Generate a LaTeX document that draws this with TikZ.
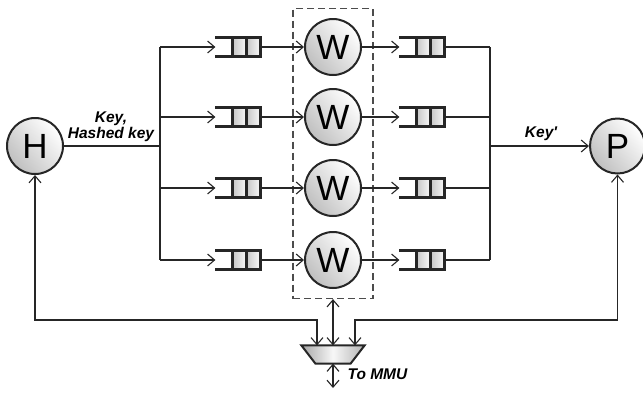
\documentclass[tikz,border=0pt]{standalone}
\usepackage{fontspec}
\setmainfont{Liberation Sans}
\usetikzlibrary{arrows.meta,fit}

\begin{document}
\begin{tikzpicture}[
    x=1pt, y=-1pt,
    line width=1.2pt,
    draw=black!85,
    >={Straight Barb[length=7pt,width=12pt,line width=1.1pt]},
    unit/.style={
        circle,
        draw=black!85,
        line width=2pt,
        inner sep=0pt,
        minimum size=56pt,
        top color=white,
        bottom color=black!25,
        shading angle=-50,
        font=\fontsize{35}{35}\selectfont
    },
    queue/.style={
        rectangle,
        inner sep=0pt,
        minimum width=44pt,
        minimum height=18pt
    },
    qline/.style={draw=black!85, line width=2.4pt},
    lbl/.style={font=\fontsize{15.5}{15.5}\selectfont\bfseries\itshape, inner sep=1pt}
]
\useasboundingbox (0,0) rectangle (643,392);

% Ends
\node[unit] (H) at (35,146) {H};
\node[unit, minimum size=55pt] (P) at (617.5,146) {P};

% Row 1
\node[queue] (qa1) at (238,47) {};
\node[unit]  (W1)  at (333,47) {W};
\node[queue] (qb1) at (422,47) {};

% Row 2
\node[queue] (qa2) at (238,117) {};
\node[unit]  (W2)  at (333,117) {W};
\node[queue] (qb2) at (422,117) {};

% Row 3
\node[queue] (qa3) at (238,188) {};
\node[unit]  (W3)  at (333,188) {W};
\node[queue] (qb3) at (422,188) {};

% Row 4
\node[queue] (qa4) at (238,260) {};
\node[unit]  (W4)  at (333,260) {W};
\node[queue] (qb4) at (422,260) {};

% Worker group
\node[draw=black!70, dash pattern=on 7pt off 4pt, inner xsep=11pt, inner ysep=9.5pt,
      fit=(W1)(W4)] (group) {};

% Memory multiplexer
\node[rectangle, inner sep=0pt, minimum width=62pt, minimum height=17pt] (mux) at (333,354.5) {};
\draw[line width=2pt, left color=black!35, right color=black!30, middle color=black!3]
    (mux.north west) -- (mux.north east) -- ([xshift=-14pt]mux.south east)
    -- ([xshift=14pt]mux.south west) -- cycle;

\coordinate (busL) at (160,0);
\coordinate (busR) at (490,0);
\coordinate (loop) at (0,320);
\coordinate (mmu) at (333,388);

% Queue drawing
\foreach \q in {qa1,qa2,qa3,qa4,qb1,qb2,qb3,qb4} {
    \shade[left color=black!22, right color=black!2]
        ([xshift=-28pt]\q.north east) rectangle ([xshift=-14pt]\q.south east);
    \shade[left color=black!22, right color=black!2]
        ([xshift=-14pt]\q.north east) rectangle (\q.south east);
    \draw[qline] (\q.north west) -- (\q.north east) -- (\q.south east) -- (\q.south west);
    \draw[qline] ([xshift=-14pt]\q.north east) -- ([xshift=-14pt]\q.south east);
    \draw[qline] ([xshift=-28pt]\q.north east) -- ([xshift=-28pt]\q.south east);
}

% Buses
\draw (H) -- (H.east -| busL);
\draw (qa1.west -| busL) -- (qa4.west -| busL);
\draw (qb1.east -| busR) -- (qb4.east -| busR);
\draw[->] (P.west -| busR) -- (P.west);

\foreach \i in {1,2,3,4} {
    \draw[->] (qa\i.west -| busL) -- (qa\i.west);
    \draw[->] (qa\i.east) -- (W\i.west);
    \draw[->] (W\i.east) -- (qb\i.west);
    \draw (qb\i.east) -- (qb\i.east -| busR);
}

% Feedback to the multiplexer
\draw[<->] (H.south) -- (H.south |- loop) -| ([xshift=-16pt]mux.north);
\draw[<->] (P.south) -- (P.south |- loop) -| ([xshift=22pt]mux.north);
\draw[<->] (group.south -| mux.north) -- (mux.north);
\draw[<->] (mux.south) -- (mmu);

% Labels
\node[lbl, align=center] at (111,127) {Key,\\Hashed key};
\node[lbl] at (541,134) {Key\textquotesingle};
\node[lbl, anchor=west] at (346,374) {To MMU};

\end{tikzpicture}
\end{document}
